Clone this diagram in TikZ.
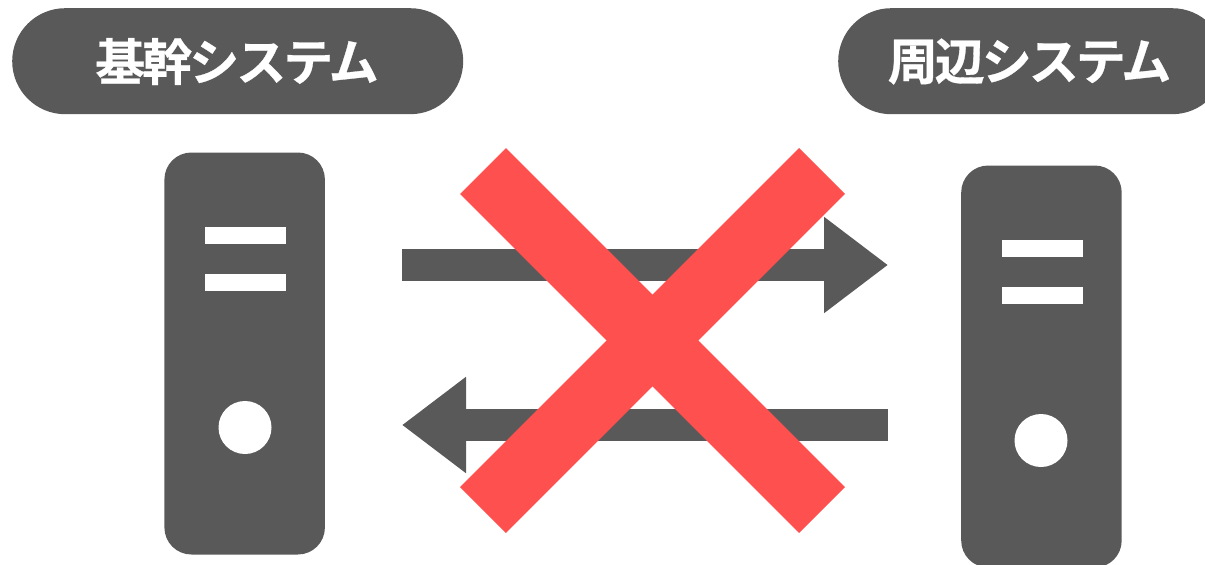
\documentclass[tikz,border=0pt]{standalone}
\usepackage{fontspec}
\usetikzlibrary{arrows.meta}
\newfontfamily\cjk{Noto Sans CJK JP}[BoldFont={Noto Sans CJK JP Bold},BoldFeatures={FakeBold=0.6,LetterSpace=-6}]
\definecolor{srv}{HTML}{595959}
\definecolor{crs}{HTML}{FF5050}
\tikzset{
  x=1pt,y=-1pt,
  pill/.style={fill=srv,rounded corners=53pt,minimum height=106pt,inner sep=0pt,anchor=north west},
  pilltext/.style={font=\cjk\bfseries\fontsize{50}{50}\selectfont,text=white},
  tower/.style={fill=srv,rounded corners=27pt,minimum width=160.5pt,minimum height=402pt,inner sep=0pt,anchor=north west},
  slot/.style={fill=white,minimum width=81pt,minimum height=17pt,inner sep=0pt},
  lamp/.style={fill=white,circle,minimum size=53pt,inner sep=0pt},
  flow/.style={draw=srv,line width=32pt,-{Triangle[length=64pt,width=92pt]}},
  crossbar/.style={draw=crs,line width=65pt}
}
\begin{document}
\begin{tikzpicture}
\useasboundingbox (0,0) rectangle (1205,565);
\clip (0,0) rectangle (1205,565);
\node[pill,minimum width=451pt] (lefthead) at (12,8) {};
\node[pilltext] (lefttext) at (237,61.5) {基幹システム};
\node[pill,minimum width=387pt] (righthead) at (838,8) {};
\node[pilltext] (righttext) at (1029.5,61.5) {周辺システム};
\node[tower] (leftsrv) at (164.2,152.3) {};
\node[slot] (l1) at (245.5,235) {};
\node[slot] (l2) at (245.5,282.5) {};
\node[lamp] (l3) at (245,427.5) {};
\node[tower] (rightsrv) at (961,165.3) {};
\node[slot] (r1) at (1042,248) {};
\node[slot] (r2) at (1042,295.5) {};
\node[lamp] (r3) at (1041,440.5) {};
\coordinate (a1) at (402,265);
\coordinate (a2) at (888,265);
\coordinate (b1) at (888,425);
\coordinate (b2) at (402,425);
\draw[flow] (a1) -- (a2);
\draw[flow] (b1) -- (b2);
\coordinate (c1) at (483,171);
\coordinate (c2) at (822,510);
\coordinate (c3) at (822,171);
\coordinate (c4) at (483,510);
\draw[crossbar] (c1) -- (c2);
\draw[crossbar] (c3) -- (c4);
\end{tikzpicture}
\end{document}
